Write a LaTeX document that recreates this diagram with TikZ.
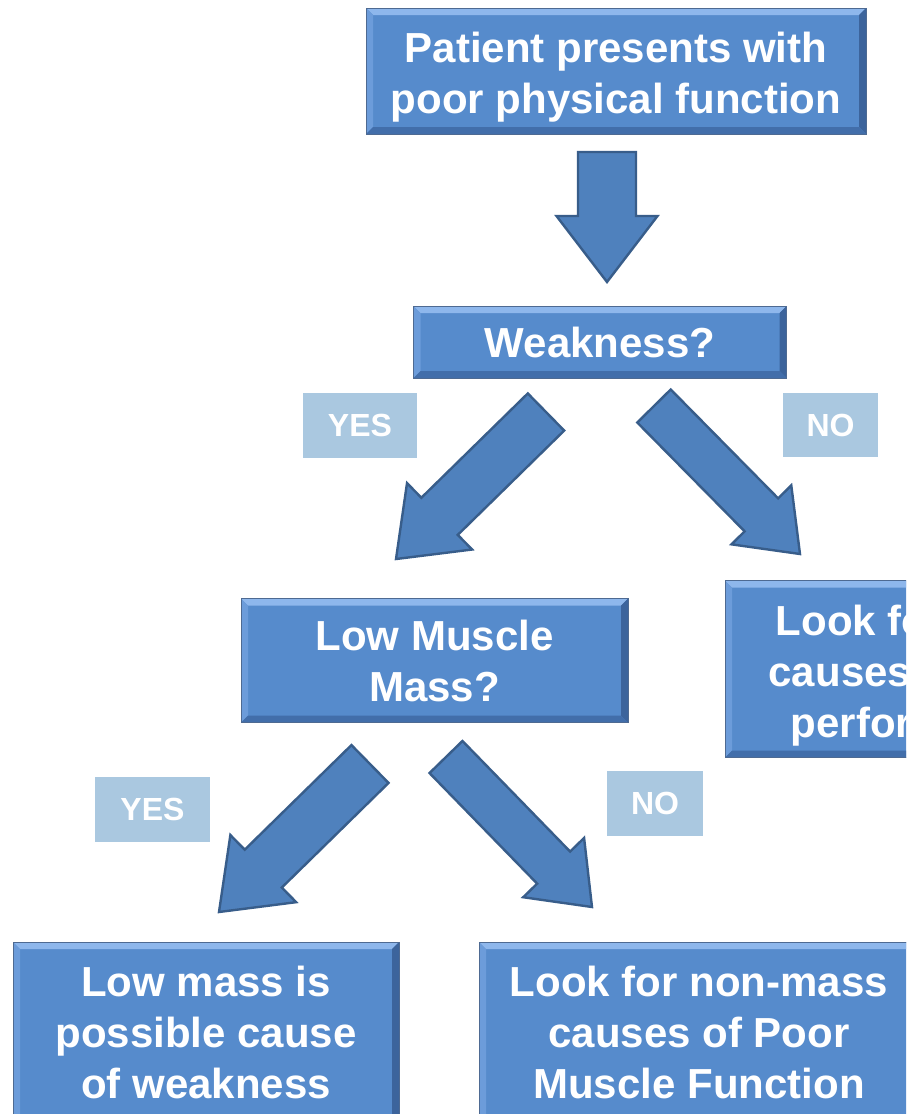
\documentclass[tikz,border=0pt]{standalone}
\usepackage{fontspec}
\setmainfont{Liberation Sans}
\usepackage{xcolor}
\usepackage{tikz}
\usetikzlibrary{calc,positioning}

\definecolor{boxfill}{RGB}{86,139,204}
\definecolor{boxedge}{RGB}{78,106,146}
\definecolor{bevtop}{RGB}{142,183,236}
\definecolor{bevleft}{RGB}{108,156,218}
\definecolor{bevright}{RGB}{60,100,156}
\definecolor{bevbottom}{RGB}{66,110,170}
\definecolor{arrfill}{RGB}{79,129,189}
\definecolor{arredge}{RGB}{56,93,138}
\definecolor{tagfill}{RGB}{170,200,224}

\newcommand{\boxfont}{\fontsize{42}{51}\selectfont\bfseries}
\newcommand{\tagfont}{\fontsize{32}{36}\selectfont\bfseries}
\newcommand{\lowerfirst}{\rule{0pt}{43pt}}

% block arrow: tail, tip, half shaft, half head, head length
\newcommand{\blockarrow}[5]{%
  \coordinate (hb) at ($(#2)!#5!(#1)$);
  \filldraw[fatarrow]
    ($(#1)!#3!90:(#2)$) -- ($(hb)!#3!90:(#2)$) -- ($(hb)!#4!90:(#2)$)
    -- (#2)
    -- ($(hb)!#4!-90:(#2)$) -- ($(hb)!#3!-90:(#2)$) -- ($(#1)!#3!-90:(#2)$)
    -- cycle;
}

\begin{document}
\begin{tikzpicture}[x=1pt,y=-1pt,
  bevel/.style={path picture={
    \fill[bevtop] (path picture bounding box.north west) -- (path picture bounding box.north east)
      -- ([xshift=-7pt,yshift=-7pt]path picture bounding box.north east)
      -- ([xshift=7pt,yshift=-7pt]path picture bounding box.north west) -- cycle;
    \fill[bevleft] (path picture bounding box.north west) -- (path picture bounding box.south west)
      -- ([xshift=7pt,yshift=7pt]path picture bounding box.south west)
      -- ([xshift=7pt,yshift=-7pt]path picture bounding box.north west) -- cycle;
    \fill[bevright] (path picture bounding box.north east) -- (path picture bounding box.south east)
      -- ([xshift=-7pt,yshift=7pt]path picture bounding box.south east)
      -- ([xshift=-7pt,yshift=-7pt]path picture bounding box.north east) -- cycle;
    \fill[bevbottom] (path picture bounding box.south west) -- (path picture bounding box.south east)
      -- ([xshift=-7pt,yshift=7pt]path picture bounding box.south east)
      -- ([xshift=7pt,yshift=7pt]path picture bounding box.south west) -- cycle;
  }},
  flowbox/.style={draw=boxedge,line width=1pt,fill=boxfill,bevel,text=white,
                  align=center,font=\boxfont,inner sep=0pt},
  answer/.style={fill=tagfill,text=white,font=\tagfont,inner sep=0pt},
  fatarrow/.style={fill=arrfill,draw=arredge,line width=2.4pt,line join=miter}
]
\useasboundingbox (0,0) rectangle (906,1114);
\clip (0,0) rectangle (906,1114);
\fill[white] (0,0) rectangle (906,1114);

\node[flowbox,minimum width=500pt,minimum height=126pt] (patient) at (616,71)
  {\lowerfirst Patient presents with\\poor physical function};
\node[flowbox,minimum width=373pt,minimum height=72pt] (weak) at (600,342)
  {Weakness?};
\node[flowbox,minimum width=387pt,minimum height=124pt] (mass) at (434.5,660.5)
  {Low Muscle\\Mass?};
\node[flowbox,minimum width=386pt,minimum height=177pt] (other) at (918,669)
  {\lowerfirst Look for other\\causes of poor\\performance};
\node[flowbox,minimum width=386pt,minimum height=180pt] (lowmass) at (206,1032)
  {Low mass is\\possible cause\\of weakness};
\node[flowbox,minimum width=440pt,minimum height=180pt] (nonmass) at (699,1032)
  {Look for non-mass\\causes of Poor\\Muscle Function};

\node[answer,minimum width=114pt,minimum height=65pt] (yesA) at (360,425.5) {YES};
\node[answer,minimum width=95pt,minimum height=64pt] (noA) at (830.5,425) {NO};
\node[answer,minimum width=115pt,minimum height=65pt] (yesB) at (152.5,809.5) {YES};
\node[answer,minimum width=96pt,minimum height=65pt] (noB) at (655,803.5) {NO};

% arrow ends
\coordinate (p-tail) at (607,152);  \coordinate (p-tip) at (607,282);
\coordinate (wy-tail) at (546,412); \coordinate (wy-tip) at (396,559);
\coordinate (wn-tail) at (654,406); \coordinate (wn-tip) at (800,554);
\coordinate (my-tail) at (370,764); \coordinate (my-tip) at (219,912);
\coordinate (mn-tail) at (446,757); \coordinate (mn-tip) at (592,907);

\blockarrow{p-tail}{p-tip}{29pt}{50.5pt}{66pt}
\blockarrow{wy-tail}{wy-tip}{26pt}{46.5pt}{61pt}
\blockarrow{wn-tail}{wn-tip}{23.5pt}{42pt}{55pt}
\blockarrow{my-tail}{my-tip}{26.5pt}{47pt}{62pt}
\blockarrow{mn-tail}{mn-tip}{23pt}{42.5pt}{55pt}
\end{tikzpicture}
\end{document}
